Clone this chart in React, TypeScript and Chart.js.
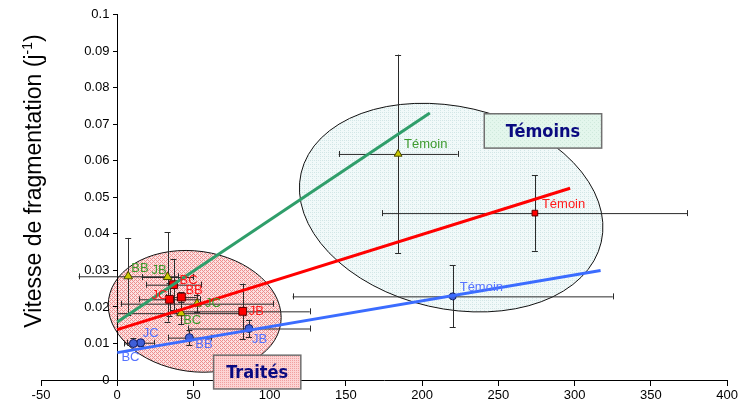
import React, { useEffect, useRef } from 'react';
import { Chart, registerables } from 'chart.js';
Chart.register(...registerables);

// ---------- DATA ----------
const pointLabels = ['BB', 'JB', 'JC', 'BC', 'Témoin'];

const greenX = [7.2, 33, 52.3, 41.9, 184.2];
const greenY = [0.0284, 0.0282, 0.0209, 0.0183, 0.0619];
const greenXErr = [32.6, 17, 50, 42, 39];
const greenYErr = [0.0105, 0.0122, 0.0023, 0.003, 0.0272];

const redX = [42.1, 82.3, 34.3, 36.9, 273.9];
const redY = [0.0227, 0.0188, 0.0221, 0.0261, 0.0457];
const redXErr = [10, 44, 20, 18, 100];
const redYErr = [0.0014, 0.0076, 0.0045, 0.007, 0.0103];

const blueX = [47.3, 86.4, 15.4, 10.6, 220];
const blueY = [0.0116, 0.0141, 0.0102, 0.01, 0.0229];
const blueXErr = [14, 40, 9, 6, 105];
const blueYErr = [0.002, 0.0024, 0.0008, 0.0014, 0.0085];

const greenFitX = [0, 205];
const greenFitY = [0.0159, 0.0731];
const redFitX = [0, 297];
const redFitY = [0.0138, 0.0525];
const blueFitX = [0, 317];
const blueFitY = [0.0075, 0.03];

const xTicks = [-50, 0, 50, 100, 150, 200, 250, 300, 350, 400];
const yTicks = [0, 0.01, 0.02, 0.03, 0.04, 0.05, 0.06, 0.07, 0.08, 0.09, 0.1];

const yTitle = 'Vitesse de fragmentation (j';
const yTitleSup = '-1';
const yTitleEnd = ')';
const groupTreated = 'Traités';
const groupControl = 'Témoins';

// ---------- LAYOUT / STYLE ----------
// label offsets in px: [dx (left edge), dy (vertical centre)]
const greenLabelOff = [[3, -8], [-16, -7], [8, 0], [2, 7.5], [6, -10]];
const redLabelOff = [[4, -7], [6, 0], [-18, -4], [6, -4], [7, -8.5]];
const blueLabelOff = [[6, 7], [3, 11], [2, -9], [-12, 14], [7, -9]];

// decorative ellipses (data-space centre & radii, rotation in degrees)
const controlEllipse = { cx: 219, cy: 0.0472, rx: 101, ry: 0.02766, rot: 13 };
const treatedEllipse = { cx: 50.8, cy: 0.0188, rx: 57, ry: 0.0165, rot: 8 };
const controlBox = { x1: 240.7, y1: 0.0729, x2: 317.7, y2: 0.0635 };
const treatedBox = { x1: 63.2, y1: 0.0068, x2: 120.4, y2: -0.00245 };

const series = [
  {
    x: greenX, y: greenY, xe: greenXErr, ye: greenYErr, off: greenLabelOff,
    labelColor: '#3d9a2e', style: 'triangle', fill: '#c8c800', stroke: '#4a4a00',
    r: 5, rT: 4.5,
  },
  {
    x: redX, y: redY, xe: redXErr, ye: redYErr, off: redLabelOff,
    labelColor: '#ff1a1a', style: 'rect', fill: '#ff0000', stroke: '#600000',
    r: 5.5, rT: 4,
  },
  {
    x: blueX, y: blueY, xe: blueXErr, ye: blueYErr, off: blueLabelOff,
    labelColor: '#5572ff', style: 'circle', fill: '#3f5fd8', stroke: '#10206a',
    r: 4, rT: 3.5,
  },
];

function makePattern(ctx: CanvasRenderingContext2D, bg: string, dot: string, size: number, dots: number[][]) {
  const c = document.createElement('canvas');
  c.width = size; c.height = size;
  const g = c.getContext('2d')!;
  g.fillStyle = bg; g.fillRect(0, 0, size, size);
  g.fillStyle = dot;
  dots.forEach(([a, b]) => g.fillRect(a, b, 1, 1));
  return ctx.createPattern(c, 'repeat')!;
}

const decorPlugin = {
  id: 'decor',
  beforeDraw(chart: any) {
    const { ctx, scales } = chart;
    const xs = scales.x, ys = scales.y;
    const drawEll = (e: any, fill: any) => {
      const cx = xs.getPixelForValue(e.cx), cy = ys.getPixelForValue(e.cy);
      const rx = xs.getPixelForValue(e.cx + e.rx) - cx;
      const ry = cy - ys.getPixelForValue(e.cy + e.ry);
      ctx.save();
      ctx.beginPath();
      ctx.ellipse(cx, cy, rx, ry, (e.rot * Math.PI) / 180, 0, Math.PI * 2);
      ctx.fillStyle = fill; ctx.fill();
      ctx.strokeStyle = '#111'; ctx.lineWidth = 1; ctx.stroke();
      ctx.restore();
    };
    const pinkPat = makePattern(ctx, '#fbe2e2', '#ee8e8e', 4, [[0, 0], [2, 0], [0, 2], [2, 2], [1, 1], [3, 3]]);
    const bluePat = makePattern(ctx, '#f1f9f9', '#d2e6e6', 4, [[0, 0], [2, 0], [0, 2]]);
    drawEll(controlEllipse, bluePat);
    drawEll(treatedEllipse, pinkPat);
  },
  beforeDatasetsDraw(chart: any) {
    const { ctx, scales } = chart;
    const xs = scales.x, ys = scales.y;
    ctx.save();
    ctx.strokeStyle = '#2b2b2b';
    ctx.lineWidth = 1;
    const cap = 3;
    series.forEach((s) => {
      s.x.forEach((xv: number, i: number) => {
        const yv = s.y[i];
        const px = xs.getPixelForValue(xv), py = ys.getPixelForValue(yv);
        const xl = xs.getPixelForValue(xv - s.xe[i]), xr = xs.getPixelForValue(xv + s.xe[i]);
        const yt = ys.getPixelForValue(yv + s.ye[i]), yb = ys.getPixelForValue(yv - s.ye[i]);
        ctx.beginPath();
        ctx.moveTo(xl, py + 0.5); ctx.lineTo(xr, py + 0.5);
        ctx.moveTo(Math.round(xl) + 0.5, py - cap); ctx.lineTo(Math.round(xl) + 0.5, py + cap);
        ctx.moveTo(Math.round(xr) + 0.5, py - cap); ctx.lineTo(Math.round(xr) + 0.5, py + cap);
        ctx.moveTo(Math.round(px) + 0.5, yt); ctx.lineTo(Math.round(px) + 0.5, yb);
        ctx.moveTo(px - cap, Math.round(yt) + 0.5); ctx.lineTo(px + cap, Math.round(yt) + 0.5);
        ctx.moveTo(px - cap, Math.round(yb) + 0.5); ctx.lineTo(px + cap, Math.round(yb) + 0.5);
        ctx.stroke();
      });
    });
    ctx.restore();
  },
  afterDatasetsDraw(chart: any) {
    const { ctx, scales } = chart;
    const xs = scales.x, ys = scales.y;
    ctx.save();
    ctx.textAlign = 'left';
    ctx.textBaseline = 'middle';
    series.forEach((s) => {
      ctx.fillStyle = s.labelColor;
      s.x.forEach((xv: number, i: number) => {
        const px = xs.getPixelForValue(xv), py = ys.getPixelForValue(s.y[i]);
        ctx.font = '13px "Liberation Sans", Arial';
        ctx.fillText(pointLabels[i], px + s.off[i][0], py + s.off[i][1]);
      });
    });
    // group boxes
    const drawBox = (b: any, fill: any, text: string) => {
      const x1 = xs.getPixelForValue(b.x1), x2 = xs.getPixelForValue(b.x2);
      const y1 = ys.getPixelForValue(b.y1), y2 = ys.getPixelForValue(b.y2);
      ctx.fillStyle = fill;
      ctx.fillRect(x1, y1, x2 - x1, y2 - y1);
      ctx.strokeStyle = '#707070'; ctx.lineWidth = 1.5;
      ctx.strokeRect(x1, y1, x2 - x1, y2 - y1);
      ctx.fillStyle = '#0a0a80';
      ctx.font = 'bold 18px "DejaVu Sans Condensed", "DejaVu Sans", sans-serif';
      ctx.textAlign = 'center';
      ctx.fillText(text, (x1 + x2) / 2, (y1 + y2) / 2 + 1);
    };
    drawBox(controlBox, makePattern(ctx, '#e3f6ec', '#cfe9dc', 4, [[0, 0], [2, 2]]), groupControl);
    drawBox(treatedBox, makePattern(ctx, '#fcd4d4', '#f0a0a0', 4, [[0, 0], [2, 0], [0, 2], [2, 2]]), groupTreated);
    ctx.restore();
  },
  afterDraw(chart: any) {
    const { ctx } = chart;
    ctx.save();
    ctx.translate(41, 181);
    ctx.rotate(-Math.PI / 2);
    ctx.fillStyle = '#000';
    ctx.textBaseline = 'alphabetic';
    const big = '23px "Liberation Sans", Arial';
    const small = '14px "Liberation Sans", Arial';
    ctx.font = big;
    const w1 = ctx.measureText(yTitle).width;
    const w3 = ctx.measureText(yTitleEnd).width;
    ctx.font = small;
    const w2 = ctx.measureText(yTitleSup).width;
    let x = -(w1 + w2 + w3) / 2;
    ctx.font = big; ctx.textAlign = 'left';
    ctx.fillText(yTitle, x, 0); x += w1;
    ctx.font = small; ctx.fillText(yTitleSup, x, -9); x += w2;
    ctx.font = big; ctx.fillText(yTitleEnd, x, 0);
    ctx.restore();
  },
};

function pts(xa: number[], ya: number[]) {
  return xa.map((v, i) => ({ x: v, y: ya[i] }));
}

export default function App() {
  const ref = useRef<HTMLCanvasElement>(null);
  useEffect(() => {
    const fitColors = ['#2f9e6a', '#ff0000', '#3b6cff'];
    const fits = [[greenFitX, greenFitY], [redFitX, redFitY], [blueFitX, blueFitY]];
    const datasets: any[] = [];
    fits.forEach((f, k) => {
      datasets.push({
        type: 'line', data: pts(f[0], f[1]), borderColor: fitColors[k], borderWidth: 3,
        pointRadius: 0, fill: false, showLine: true, tension: 0,
      });
    });
    series.forEach((s) => {
      datasets.push({
        type: 'scatter', data: pts(s.x, s.y), pointStyle: s.style,
        pointRadius: s.x.map((_, i) => (i === 4 ? s.rT : s.r)),
        backgroundColor: s.fill, borderColor: s.stroke, borderWidth: 1, showLine: false,
      });
    });
    const chart = new Chart(ref.current!, {
      type: 'scatter',
      data: { datasets },
      plugins: [decorPlugin],
      options: {
        animation: false,
        responsive: false,
        layout: { padding: { left: 41, right: 9, top: 13, bottom: 25 } },
        plugins: { legend: { display: false }, tooltip: { enabled: false } },
        scales: {
          x: {
            type: 'linear', min: -50, max: 400, position: { y: 0 } as any,
            afterBuildTicks: (s: any) => { s.ticks = xTicks.map((v) => ({ value: v })); },
            grid: { drawOnChartArea: false, drawTicks: true, tickLength: 5, color: '#000' },
            border: { display: true, color: '#000', width: 1 },
            ticks: {
              color: '#000', font: { family: '"Liberation Sans", Arial', size: 13 }, padding: 3,
              maxRotation: 0, autoSkip: false, callback: (v: any) => String(v),
            },
          },
          y: {
            type: 'linear', min: 0, max: 0.1, position: { x: 0 } as any,
            afterBuildTicks: (s: any) => { s.ticks = yTicks.map((v) => ({ value: v })); },
            grid: { drawOnChartArea: false, drawTicks: true, tickLength: 4, color: '#000' },
            border: { display: true, color: '#000', width: 1 },
            ticks: {
              color: '#000', font: { family: '"Liberation Sans", Arial', size: 13 }, padding: 7,
              autoSkip: false, callback: (v: any) => String(+Number(v).toFixed(2)) + '\u2009\u2009\u2009',
            },
          },
        },
      },
    } as any);
    return () => chart.destroy();
  }, []);
  return (
    <div style={{ position: 'fixed', left: 0, top: 0, width: 741, height: 405, background: '#fff' }}>
      <canvas ref={ref} width={741} height={405} style={{ display: 'block' }} />
    </div>
  );
}
